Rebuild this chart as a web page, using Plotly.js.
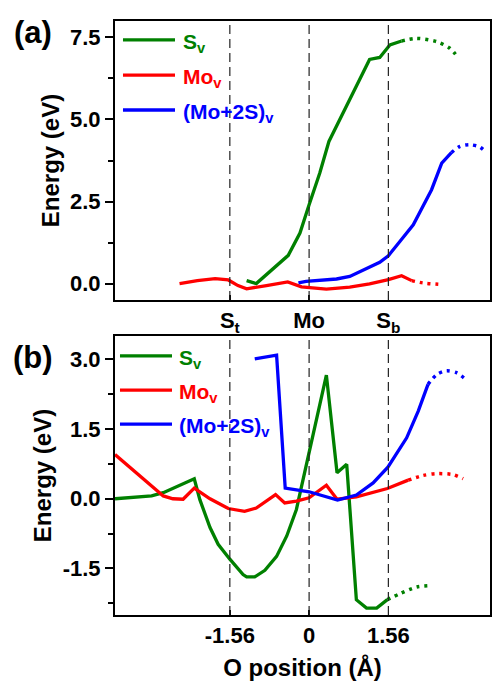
<!DOCTYPE html>
<html>
<head>
<meta charset="utf-8">
<script src="https://cdn.plot.ly/plotly-3.0.1.min.js"></script>
<style>html,body{margin:0;padding:0;background:#fff;}#chart{width:492px;height:681px;}</style>
</head>
<body>
<div id="chart"></div>
<script>
// ---------- data ----------
// marker positions (O position, Å) and tick labels
const siteX = [-1.56, 0, 1.56];
const siteLabelsA = ['S<sub>t</sub>', 'Mo', 'S<sub>b</sub>'];
const siteLabelsB = ['-1.56', '0', '1.56'];
const xRange = [-3.82, 3.56];

const aYTickVals = [0, 2.5, 5, 7.5];
const aYTickText = ['0.0', '2.5', '5.0', '7.5'];
const aYMinorStep = 1.25;
const bYTickVals = [-1.5, 0, 1.5, 3];
const bYTickText = ['-1.5', '0.0', '1.5', '3.0'];
const bYMinorStep = 0.75;

const seriesNames = ['S', 'Mo', '(Mo+2S)'];

// panel (a)
const aSvX = [-1.23, -1.04, -0.41, -0.18, 0, 0.21, 0.39, 0.80, 1.19, 1.39, 1.59, 1.82];
const aSvY = [0.09, 0.0, 0.86, 1.54, 2.40, 3.37, 4.33, 5.60, 6.83, 6.89, 7.27, 7.39];
const aSvDotX = [1.82, 2.11, 2.51, 2.77, 2.93];
const aSvDotY = [7.39, 7.47, 7.37, 7.17, 6.89];

const aMovX = [-2.55, -2.2, -1.85, -1.59, -1.40, -1.23, -0.84, -0.42, -0.15, 0.34, 0.80, 1.19, 1.56, 1.82, 2.02];
const aMovY = [0.0, 0.09, 0.15, 0.11, -0.06, -0.16, -0.06, 0.05, -0.10, -0.17, -0.11, -0.01, 0.12, 0.24, 0.09];
const aMovDotX = [2.02, 2.24, 2.63];
const aMovDotY = [0.09, 0.02, -0.03];

const aMo2SX = [-0.21, -0.06, 0.54, 0.80, 1.39, 1.56, 1.79, 2.05, 2.41, 2.61, 2.80];
const aMo2SY = [0.02, 0.07, 0.14, 0.22, 0.65, 0.85, 1.29, 1.79, 2.86, 3.67, 3.99];
const aMo2SDotX = [2.80, 2.97, 3.16, 3.36, 3.49];
const aMo2SDotY = [3.99, 4.18, 4.23, 4.16, 3.99];

// panel (b)
const bSvX = [-3.82, -3.10, -2.87, -2.26, -2.15, -1.95, -1.79, -1.56, -1.30, -1.23, -1.07, -0.87, -0.64, -0.44, -0.25, 0.01, 0.34, 0.55, 0.74, 0.93, 1.13, 1.33, 1.54];
const bSvY = [0.0, 0.06, 0.13, 0.43, -0.02, -0.62, -0.98, -1.30, -1.63, -1.68, -1.68, -1.54, -1.24, -0.80, -0.23, 1.05, 2.66, 0.56, 0.74, -2.17, -2.35, -2.35, -2.17];
const bSvDotX = [1.54, 1.79, 2.11, 2.38];
const bSvDotY = [-2.17, -2.04, -1.90, -1.87];

const bMovX = [-3.82, -2.87, -2.68, -2.48, -2.26, -1.95, -1.59, -1.27, -1.04, -0.66, -0.48, -0.25, 0.0, 0.34, 0.55, 0.93, 1.54, 1.95];
const bMovY = [0.95, 0.06, 0.0, -0.01, 0.23, 0.0, -0.21, -0.27, -0.20, 0.09, -0.09, -0.05, 0.02, 0.29, -0.01, 0.04, 0.22, 0.40];
const bMovDotX = [1.95, 2.24, 2.51, 2.83, 3.03];
const bMovDotY = [0.40, 0.50, 0.54, 0.52, 0.43];

const bMo2SX = [-1.07, -0.64, -0.47, -0.08, 0.0, 0.56, 0.93, 1.26, 1.55, 1.92, 2.15, 2.34];
const bMo2SY = [3.01, 3.09, 0.23, 0.17, 0.15, -0.03, 0.08, 0.34, 0.68, 1.31, 1.89, 2.46];
const bMo2SDotX = [2.34, 2.51, 2.70, 2.90, 3.07];
const bMo2SDotY = [2.46, 2.67, 2.75, 2.71, 2.58];

// ---------- styling ----------
const GREEN = '#008000', RED = '#ff0000', BLUE = '#0000ff';
const colors = [GREEN, RED, BLUE];
const FONT = 'Arial, "Liberation Sans", sans-serif';
const LW = 3.3;
const DOT = '3px,5px';

function solid(x, y, c, xa, ya) {
  return {x: x, y: y, type: 'scatter', mode: 'lines', xaxis: xa, yaxis: ya,
          line: {color: c, width: LW}, showlegend: false, hoverinfo: 'skip'};
}
function dotted(x, y, c, xa, ya) {
  return {x: x, y: y, type: 'scatter', mode: 'lines', xaxis: xa, yaxis: ya,
          line: {color: c, width: 3.5, dash: DOT, shape: 'spline', smoothing: 0.8},
          showlegend: false, hoverinfo: 'skip'};
}

const traces = [
  solid(aSvX, aSvY, GREEN, 'x', 'y'), dotted(aSvDotX, aSvDotY, GREEN, 'x', 'y'),
  solid(aMovX, aMovY, RED, 'x', 'y'), dotted(aMovDotX, aMovDotY, RED, 'x', 'y'),
  solid(aMo2SX, aMo2SY, BLUE, 'x', 'y'), dotted(aMo2SDotX, aMo2SDotY, BLUE, 'x', 'y'),
  solid(bSvX, bSvY, GREEN, 'x2', 'y2'), dotted(bSvDotX, bSvDotY, GREEN, 'x2', 'y2'),
  solid(bMovX, bMovY, RED, 'x2', 'y2'), dotted(bMovDotX, bMovDotY, RED, 'x2', 'y2'),
  solid(bMo2SX, bMo2SY, BLUE, 'x2', 'y2'), dotted(bMo2SDotX, bMo2SDotY, BLUE, 'x2', 'y2')
];

const tickFont = {family: FONT, size: 22, color: '#000', weight: 'bold'};
const titleFont = {family: FONT, size: 24, color: '#000', weight: 'bold'};

function xAxis(anchor, labels) {
  return {anchor: anchor, range: xRange, tickmode: 'array', tickvals: siteX, ticktext: labels,
          ticks: 'inside', ticklen: 5, tickwidth: 1.5, tickcolor: '#000',
          showline: true, linewidth: 2, linecolor: '#000', mirror: true,
          showgrid: false, zeroline: false, tickfont: tickFont, fixedrange: true};
}
function yAxis(domain, range, vals, text, minorStep) {
  return {domain: domain, range: range, tickmode: 'array', tickvals: vals, ticktext: text,
          ticks: 'outside', ticklen: 8, tickwidth: 2, tickcolor: '#000',
          minor: {tickmode: 'linear', tick0: 0, dtick: minorStep, ticks: 'outside', ticklen: 5, tickwidth: 2, tickcolor: '#000', showgrid: false},
          showline: true, linewidth: 2, linecolor: '#000', mirror: true,
          showgrid: false, zeroline: false, tickfont: tickFont,
          title: {text: 'Energy (eV)', font: titleFont, standoff: 4}, fixedrange: true};
}

const xa = xAxis('y', siteLabelsA);
const xb = xAxis('y2', siteLabelsB);
xb.title = {text: 'O position (Å)', font: titleFont, standoff: 12};

const shapes = [];
siteX.forEach(function (v) {
  shapes.push({type: 'line', xref: 'x', yref: 'y domain', x0: v, x1: v, y0: 0, y1: 1,
               line: {color: '#222', width: 1.2, dash: '9px,5px'}});
  shapes.push({type: 'line', xref: 'x2', yref: 'y2 domain', x0: v, x1: v, y0: 0, y1: 1,
               line: {color: '#222', width: 1.2, dash: '9px,5px'}});
});

// manual legends
const annotations = [];
const legA = {x0: 0.0213, x1: 0.160, xt: 0.175, ys: [0.932, 0.806, 0.681]};
const legB = {x0: 0.0133, x1: 0.152, xt: 0.166, ys: [0.929, 0.806, 0.684]};
[[legA, 'x domain', 'y domain'], [legB, 'x2 domain', 'y2 domain']].forEach(function (p) {
  const L = p[0];
  seriesNames.forEach(function (n, i) {
    shapes.push({type: 'line', xref: p[1], yref: p[2], x0: L.x0, x1: L.x1, y0: L.ys[i], y1: L.ys[i],
                 line: {color: colors[i], width: LW}});
    annotations.push({xref: p[1], yref: p[2], x: L.xt, y: L.ys[i], xanchor: 'left', yanchor: 'middle',
                      yshift: -3, showarrow: false, text: n + '<sub>v</sub>',
                      font: {family: FONT, size: 21, color: colors[i], weight: 'bold'}});
  });
});
annotations.push({xref: 'paper', yref: 'paper', x: -0.219, y: 0.98, xanchor: 'center', yanchor: 'middle',
                  showarrow: false, text: '(a)', font: {family: FONT, size: 31, color: '#000', weight: 'bold'}});
annotations.push({xref: 'paper', yref: 'paper', x: -0.219, y: 0.434, xanchor: 'center', yanchor: 'middle',
                  showarrow: false, text: '(b)', font: {family: FONT, size: 31, color: '#000', weight: 'bold'}});

const layout = {
  width: 492, height: 681,
  margin: {l: 115, r: 2, t: 21, b: 66},
  paper_bgcolor: '#fff', plot_bgcolor: '#fff',
  showlegend: false,
  xaxis: xa, xaxis2: xb,
  yaxis: yAxis([0.5303, 1], [-0.5, 8.0], aYTickVals, aYTickText, aYMinorStep),
  yaxis2: yAxis([0, 0.4697], [-2.5, 3.5], bYTickVals, bYTickText, bYMinorStep),
  shapes: shapes, annotations: annotations
};

Plotly.newPlot('chart', traces, layout, {displayModeBar: false, staticPlot: true});
</script>
</body>
</html>
